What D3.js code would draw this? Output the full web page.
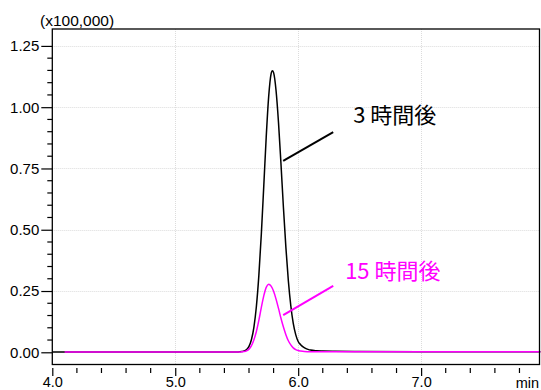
<!DOCTYPE html>
<html>
<head>
<meta charset="utf-8">
<script src="https://cdn.jsdelivr.net/npm/d3@7"></script>
<style>
  html, body { margin: 0; padding: 0; background: #fff; }
  svg { display: block; }
</style>
</head>
<body>
<svg id="chart" width="541" height="390"></svg>
<script>
// ---- data (time in min, signal in x100,000) ----
const blackTime  = [4.00, 5.00, 5.40, 5.50, 5.52, 5.54, 5.56, 5.58, 5.60, 5.62, 5.64, 5.66, 5.68, 5.70, 5.72, 5.74, 5.76, 5.78, 5.79, 5.80, 5.82, 5.84, 5.86, 5.88, 5.90, 5.92, 5.94, 5.96, 5.98, 6.00, 6.02, 6.04, 6.06, 6.08, 6.10, 6.15, 6.20, 6.30, 6.50, 7.00, 7.50, 7.97];
const blackValue = [0.001, 0.001, 0.001, 0.001, 0.002, 0.003, 0.005, 0.011, 0.024, 0.052, 0.103, 0.187, 0.313, 0.480, 0.677, 0.878, 1.043, 1.137, 1.149, 1.141, 1.068, 0.937, 0.769, 0.591, 0.428, 0.292, 0.190, 0.118, 0.072, 0.044, 0.031, 0.022, 0.016, 0.012, 0.009, 0.006, 0.005, 0.004, 0.003, 0.002, 0.002, 0.002];

const magentaTime  = [4.10, 5.00, 5.40, 5.50, 5.52, 5.54, 5.56, 5.58, 5.60, 5.62, 5.64, 5.66, 5.68, 5.70, 5.72, 5.74, 5.76, 5.78, 5.80, 5.82, 5.84, 5.86, 5.88, 5.90, 5.92, 5.94, 5.96, 5.98, 6.00, 6.02, 6.05, 6.10, 6.20, 6.50, 7.00, 7.50, 7.97];
const magentaValue = [0.001, 0.001, 0.001, 0.001, 0.001, 0.002, 0.003, 0.006, 0.013, 0.027, 0.051, 0.085, 0.130, 0.182, 0.230, 0.265, 0.278, 0.270, 0.249, 0.217, 0.179, 0.139, 0.103, 0.072, 0.047, 0.030, 0.018, 0.011, 0.007, 0.005, 0.003, 0.002, 0.002, 0.002, 0.002, 0.002, 0.002];

const xMajorTicks = [4.0, 5.0, 6.0, 7.0];
const xTickLabels = ["4.0", "5.0", "6.0", "7.0"];
const yMajorTicks = [0.00, 0.25, 0.50, 0.75, 1.00, 1.25];
const yTickLabels = ["0.00", "0.25", "0.50", "0.75", "1.00", "1.25"];
const yUnitLabel = "(x100,000)";
const xUnitLabel = "min";

const seriesNames  = ["3 時間後", "15 時間後"];
const seriesColors = ["#000000", "#ff00ff"];
// annotation leader lines and label anchors, in data units
const annLine  = [[5.878, 0.781, 6.285, 0.898], [5.878, 0.152, 6.285, 0.271]];
const annLabel = [[6.447, 0.936], [6.382, 0.298]];

// ---- layout ----
const W = 541, H = 390;
const plot = { left: 52.3, top: 29, right: 540, bottom: 364.5 };
const tickFont = '"Liberation Sans", Arial, sans-serif';
const cjkFont = '"Noto Sans CJK JP", "Noto Sans", sans-serif';

const x = d3.scaleLinear().domain([4.0, 7.967]).range([plot.left, plot.right]);
const y = d3.scaleLinear().domain([-0.0498, 1.319]).range([plot.bottom, plot.top]);

const svg = d3.select("#chart");

// grid
const grid = svg.append("g").attr("stroke", "#dcdcdc").attr("stroke-width", 1).attr("stroke-dasharray", "1,1");
grid.selectAll("line.gy").data(yMajorTicks.filter(v => v > 0)).enter().append("line")
  .attr("x1", plot.left).attr("x2", plot.right)
  .attr("y1", d => Math.round(y(d)) + 0.5).attr("y2", d => Math.round(y(d)) + 0.5);
grid.selectAll("line.gx").data(xMajorTicks.filter(v => v > 4.0)).enter().append("line")
  .attr("y1", plot.top).attr("y2", plot.bottom)
  .attr("x1", d => Math.round(x(d)) + 0.5).attr("x2", d => Math.round(x(d)) + 0.5);

// curves
const line = d3.line().x(d => x(d[0])).y(d => y(d[1])).curve(d3.curveMonotoneX);
const blackData = blackTime.map((t, i) => [t, blackValue[i]]);
const magentaData = magentaTime.map((t, i) => [t, magentaValue[i]]);

svg.append("path").datum(blackData).attr("d", line)
  .attr("fill", "none").attr("stroke", seriesColors[0]).attr("stroke-width", 1.5);
svg.append("path").datum(magentaData).attr("d", line)
  .attr("fill", "none").attr("stroke", seriesColors[1]).attr("stroke-width", 1.5);

// frame
svg.append("rect")
  .attr("x", plot.left).attr("y", plot.top)
  .attr("width", plot.right - plot.left - 0.5).attr("height", plot.bottom - plot.top)
  .attr("fill", "none").attr("stroke", "#000").attr("stroke-width", 1.3);

// y axis
const yAxis = d3.axisLeft(y)
  .tickValues(yMajorTicks)
  .tickFormat((d, i) => yTickLabels[i])
  .tickSize(11).tickPadding(2);
const gy = svg.append("g").attr("transform", `translate(${plot.left},0)`).call(yAxis);
gy.select(".domain").remove();
gy.selectAll("text").style("font-size", "15px").style("font-family", tickFont).attr("fill", "#000");
gy.selectAll("line").attr("stroke-width", 1.2);
const yMinor = d3.range(-0.05, 1.30, 0.05).map(v => +v.toFixed(2)).filter(v => !yMajorTicks.includes(v) && v > -0.05);
svg.append("g").selectAll("line").data(yMinor).enter().append("line")
  .attr("x1", plot.left - 5).attr("x2", plot.left)
  .attr("y1", d => y(d)).attr("y2", d => y(d))
  .attr("stroke", "#000").attr("stroke-width", 1.2);

// x axis (ticks hang below frame with a small gap)
const axisY = plot.bottom + 3.5;
const xAxis = d3.axisBottom(x)
  .tickValues(xMajorTicks)
  .tickFormat((d, i) => xTickLabels[i])
  .tickSize(8).tickPadding(1);
const gx = svg.append("g").attr("transform", `translate(0,${axisY})`).call(xAxis);
gx.select(".domain").remove();
gx.selectAll("text").style("font-size", "14.5px").style("font-family", tickFont).attr("fill", "#000");
gx.selectAll("line").attr("stroke-width", 1.2);
const xMinor = d3.range(4.2, 7.97, 0.2).map(v => +v.toFixed(1)).filter(v => !xMajorTicks.includes(v));
svg.append("g").selectAll("line").data(xMinor).enter().append("line")
  .attr("x1", d => x(d)).attr("x2", d => x(d))
  .attr("y1", axisY).attr("y2", axisY + 5)
  .attr("stroke", "#000").attr("stroke-width", 1.2);

// unit labels
svg.append("text").attr("x", 40).attr("y", 26)
  .style("font-size", "15.5px").style("font-family", tickFont).attr("fill", "#000").text(yUnitLabel);
svg.append("text").attr("x", 539).attr("y", 388).attr("text-anchor", "end")
  .style("font-size", "14.5px").style("font-family", tickFont).attr("fill", "#000").text(xUnitLabel);

// annotations
annLine.forEach((a, i) => {
  svg.append("line")
    .attr("x1", x(a[0])).attr("y1", y(a[1]))
    .attr("x2", x(a[2])).attr("y2", y(a[3]))
    .attr("stroke", seriesColors[i]).attr("stroke-width", 2);
  svg.append("text")
    .attr("x", x(annLabel[i][0])).attr("y", y(annLabel[i][1]))
    .style("font-size", "22px").style("font-family", cjkFont).attr("fill", seriesColors[i])
    .text(seriesNames[i]);
});
</script>
</body>
</html>
